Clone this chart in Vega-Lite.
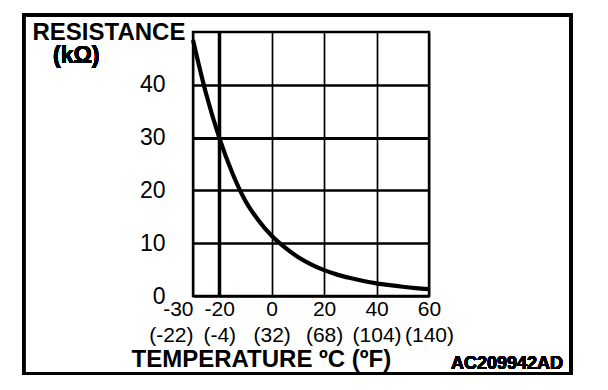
{
  "$schema": "https://vega.github.io/schema/vega-lite/v6.json",
  "width": 236,
  "height": 264,
  "autosize": {"type": "none"},
  "padding": {"left": 193, "top": 32, "right": 179, "bottom": 94},
  "background": "white",
  "config": {
    "font": "Liberation Sans",
    "view": {"stroke": "black", "strokeWidth": 2.4}
  },
  "data": {
    "values": [
      {"t": -30, "r": 48.5},
      {"t": -25, "r": 38.3},
      {"t": -20, "r": 30.0},
      {"t": -15, "r": 23.3},
      {"t": -10, "r": 18.0},
      {"t": -5, "r": 14.3},
      {"t": 0, "r": 11.4},
      {"t": 5, "r": 9.2},
      {"t": 10, "r": 7.4},
      {"t": 15, "r": 6.0},
      {"t": 20, "r": 4.9},
      {"t": 25, "r": 4.05},
      {"t": 30, "r": 3.4},
      {"t": 35, "r": 2.85},
      {"t": 40, "r": 2.4},
      {"t": 45, "r": 2.05},
      {"t": 50, "r": 1.75},
      {"t": 55, "r": 1.5},
      {"t": 60, "r": 1.3}
    ]
  },
  "layer": [
    {
      "mark": {"type": "line", "color": "black", "strokeWidth": 4.2, "interpolate": "monotone"},
      "encoding": {
        "x": {
          "field": "t",
          "type": "quantitative",
          "scale": {"domain": [-30, 60], "nice": false, "zero": false},
          "axis": {
            "values": [-30, -20, 0, 20, 40, 60],
            "grid": true,
            "gridColor": "black",
            "gridOpacity": 1,
            "gridWidth": {"condition": {"test": "datum.value == -20", "value": 3.5}, "value": 1.7},
            "ticks": false,
            "domain": false,
            "labelFontSize": 21,
            "labelColor": "black",
            "labelPadding": 2,
            "labelLineHeight": 26,
            "labelOverlap": false,
            "labelBound": false,
            "labelFlush": false,
            "labelAlign": {"condition": {"test": "datum.value == -30", "value": "right"}, "value": "center"},
            "labelExpr": "datum.value == -30 ? ['-30','(-22)'] : datum.value == -20 ? ['-20','(-4)'] : datum.value == 0 ? ['0','(32)'] : datum.value == 20 ? ['20','(68)'] : datum.value == 40 ? ['40','(104)'] : ['60','(140)']",
            "title": "TEMPERATURE \u00baC (\u00baF)",
            "titleFontSize": 24,
            "titleFontWeight": "bold",
            "titleColor": "black",
            "titleAlign": "left",
            "titleBaseline": "alphabetic",
            "titleX": -62,
            "titleY": 70
          }
        },
        "y": {
          "field": "r",
          "type": "quantitative",
          "scale": {"domain": [0, 50], "nice": false},
          "axis": {
            "values": [0, 10, 20, 30, 40],
            "grid": true,
            "gridColor": "black",
            "gridOpacity": 1,
            "gridWidth": {"condition": {"test": "datum.value == 30", "value": 3}, "value": 2.3},
            "ticks": false,
            "domain": false,
            "labelFontSize": 23,
            "labelColor": "black",
            "labelPadding": 28,
            "labelBaseline": "middle",
            "labelOverlap": false,
            "labelBound": false,
            "labelFlush": false,
            "title": "RESISTANCE",
            "titleFontSize": 24,
            "titleFontWeight": "bold",
            "titleColor": "black",
            "titleAngle": 0,
            "titleAlign": "left",
            "titleBaseline": "alphabetic",
            "titleX": -161,
            "titleY": 7
          }
        }
      }
    },
    {
      "mark": {"type": "rect", "fill": null, "filled": false, "stroke": "black", "strokeWidth": 3, "clip": false},
      "encoding": {
        "x": {"datum": -94.6, "type": "quantitative"},
        "x2": {"datum": 114.15},
        "y": {"datum": 53.16, "type": "quantitative"},
        "y2": {"datum": -14.68}
      }
    },
    {
      "mark": {"type": "text", "text": "(k\u03a9)", "align": "left", "baseline": "alphabetic", "fontSize": 23, "fontWeight": "bold", "color": "black", "clip": false},
      "encoding": {
        "x": {"datum": -83.4, "type": "quantitative"},
        "y": {"datum": 44.1, "type": "quantitative"}
      }
    },
    {
      "mark": {"type": "text", "text": "AC209942AD", "align": "right", "baseline": "alphabetic", "fontSize": 18, "fontWeight": "bold", "color": "black", "clip": false},
      "encoding": {
        "x": {"datum": 111.1, "type": "quantitative"},
        "y": {"datum": -13.8, "type": "quantitative"}
      }
    }
  ]
}
